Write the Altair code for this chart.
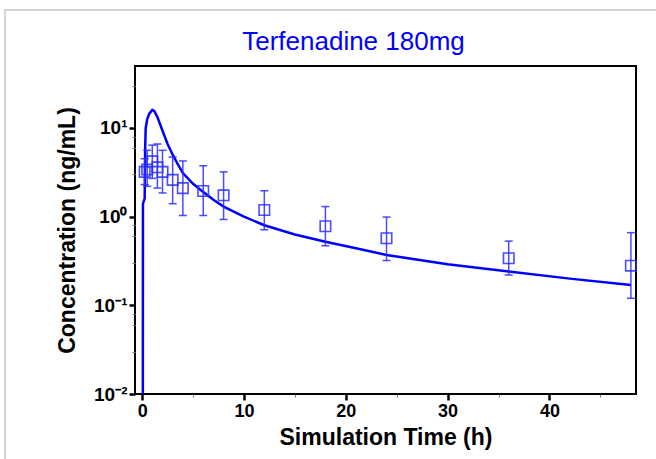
import altair as alt
import pandas as pd

# simulated concentration curve
sim_time = [0.07, 0.08, 0.25, 0.3, 0.35, 0.5, 0.7, 1.0, 1.2, 1.5, 2.0, 2.5, 3.0, 3.5, 4.0, 5.0,
            6.0, 7.0, 8.0, 10.0, 12.0, 15.0, 18.0, 21.0, 24.0, 30.0, 36.0, 42.0, 48.0]
sim_conc = [0.01, 1.4, 1.6, 6.0, 10.0, 12.5, 14.5, 16.0, 15.5, 13.3, 9.3, 6.6, 5.0, 3.9, 3.1, 2.35,
            1.9, 1.55, 1.3, 1.0, 0.80, 0.63, 0.52, 0.44, 0.37, 0.29, 0.24, 0.20, 0.17]

# observed data (mean with error bars)
obs_time = [0.25, 0.5, 1, 1.5, 2, 3, 4, 6, 8, 12, 18, 24, 36, 48]
obs_mean = [3.2, 3.4, 4.2, 3.6, 3.2, 2.6, 2.1, 1.95, 1.74, 1.19, 0.78, 0.57, 0.34, 0.28]
obs_low = [2.3, 2.2, 2.7, 2.1, 1.85, 1.4, 1.03, 1.03, 0.93, 0.71, 0.47, 0.32, 0.22, 0.12]
obs_high = [4.5, 5.6, 6.4, 6.6, 5.6, 4.7, 4.25, 3.75, 3.2, 1.96, 1.3, 0.99, 0.53, 0.66]

# axis ticks
y_major = [0.01, 0.1, 1, 10]
y_major_labels = ["10⁻²", "10⁻¹", "10⁰", "10¹"]
y_minor = [0.03, 0.06, 0.08, 0.3, 0.6, 0.8, 3, 6, 8, 30]
x_ticks = [0, 2.5, 5, 7.5, 10, 12.5, 15, 17.5, 20, 22.5, 25, 27.5, 30, 32.5, 35, 37.5, 40, 42.5, 45, 47.5]

FONT = "Liberation Sans"
LINE_BLUE = "#0000ff"
OBS_BLUE = "#2d2dff"

sim_df = pd.DataFrame({"time": sim_time, "conc": sim_conc})
obs_df = pd.DataFrame({"time": obs_time, "mean": obs_mean, "low": obs_low, "high": obs_high})

label_expr = " : ".join(
    f"abs(datum.value - {v}) < {v} * 1e-6 ? '{lab}'" for v, lab in zip(y_major, y_major_labels)
) + " : ''"
major_test = "indexof([" + ",".join(str(v) for v in y_major) + "], datum.value) >= 0"

x_scale = alt.Scale(domain=[-0.7, 48.5], nice=False, zero=False)
y_scale = alt.Scale(type="log", domain=[0.01, 50], nice=False)

x_axis = alt.Axis(
    title="Simulation Time (h)",
    values=x_ticks,
    labelExpr="datum.value % 10 == 0 ? datum.label : ''",
    tickSize={"condition": {"test": "datum.value % 10 == 0", "value": 6}, "value": 3},
    tickWidth={"condition": {"test": "datum.value % 10 == 0", "value": 2.5}, "value": 1},
    tickColor={"condition": {"test": "datum.value % 10 == 0", "value": "black"}, "value": "#777777"},
    grid=False, domain=False,
    labelFont=FONT, labelFontSize=18, labelFontWeight="bold", labelColor="black",
    labelPadding=2, labelOverlap=False,
    titleFont=FONT, titleFontSize=23, titleFontWeight="bold", titleColor="black",
    titleY=43, titleBaseline="middle",
)
y_axis = alt.Axis(
    title="Concentration (ng/mL)",
    values=sorted(y_major + y_minor),
    labelExpr=label_expr,
    tickSize={"condition": {"test": major_test, "value": 6}, "value": 3},
    tickWidth={"condition": {"test": major_test, "value": 2.5}, "value": 1},
    tickColor={"condition": {"test": major_test, "value": "black"}, "value": "#777777"},
    grid=False, domain=False,
    labelFont=FONT, labelFontSize=19, labelFontWeight="bold", labelColor="black",
    labelPadding=2, labelOverlap=False,
    titleFont=FONT, titleFontSize=23, titleFontWeight="bold", titleColor="black",
    titleX=-68, titleY=164, titleAngle=270, titleAlign="center", titleBaseline="middle",
)

line = alt.Chart(sim_df).mark_line(color=LINE_BLUE, strokeWidth=2.5, clip=True).encode(
    x=alt.X("time:Q", scale=x_scale, axis=x_axis),
    y=alt.Y("conc:Q", scale=y_scale, axis=y_axis),
)

bars = alt.Chart(obs_df).mark_rule(color=OBS_BLUE, strokeWidth=1.5, opacity=0.85).encode(
    x="time:Q", y="low:Q", y2="high:Q"
)
cap_low = alt.Chart(obs_df).mark_tick(color=OBS_BLUE, orient="horizontal", size=8, thickness=1.5, opacity=0.85).encode(
    x="time:Q", y="low:Q"
)
cap_high = alt.Chart(obs_df).mark_tick(color=OBS_BLUE, orient="horizontal", size=8, thickness=1.5, opacity=0.85).encode(
    x="time:Q", y="high:Q"
)
points = alt.Chart(obs_df).mark_point(shape="square", filled=False, color=OBS_BLUE, size=110,
                                      strokeWidth=1.6, opacity=0.85).encode(
    x="time:Q", y="mean:Q"
)

frame = alt.Chart(pd.DataFrame({"k": [0]})).mark_rect(
    filled=False, stroke="#c8c8c8", strokeWidth=1.5, clip=False
).encode(x=alt.value(-130), x2=alt.value(525), y=alt.value(-56), y2=alt.value(397))

chart = alt.layer(frame, line, bars, cap_low, cap_high, points).properties(
    width=501,
    height=328,
    autosize=alt.AutoSizeParams(type="none"),
    padding={"left": 135, "top": 66, "right": 20, "bottom": 65},
    title=alt.TitleParams(
        "Terfenadine 180mg", color="blue", font=FONT, fontSize=26, fontWeight="normal",
        anchor="middle", frame="group", dx=-32, dy=60, offset=14,
    ),
).configure(background="white").configure_view(stroke="black", strokeWidth=2)

chart.save("out.html", embed_options={"renderer": "svg", "actions": False})
